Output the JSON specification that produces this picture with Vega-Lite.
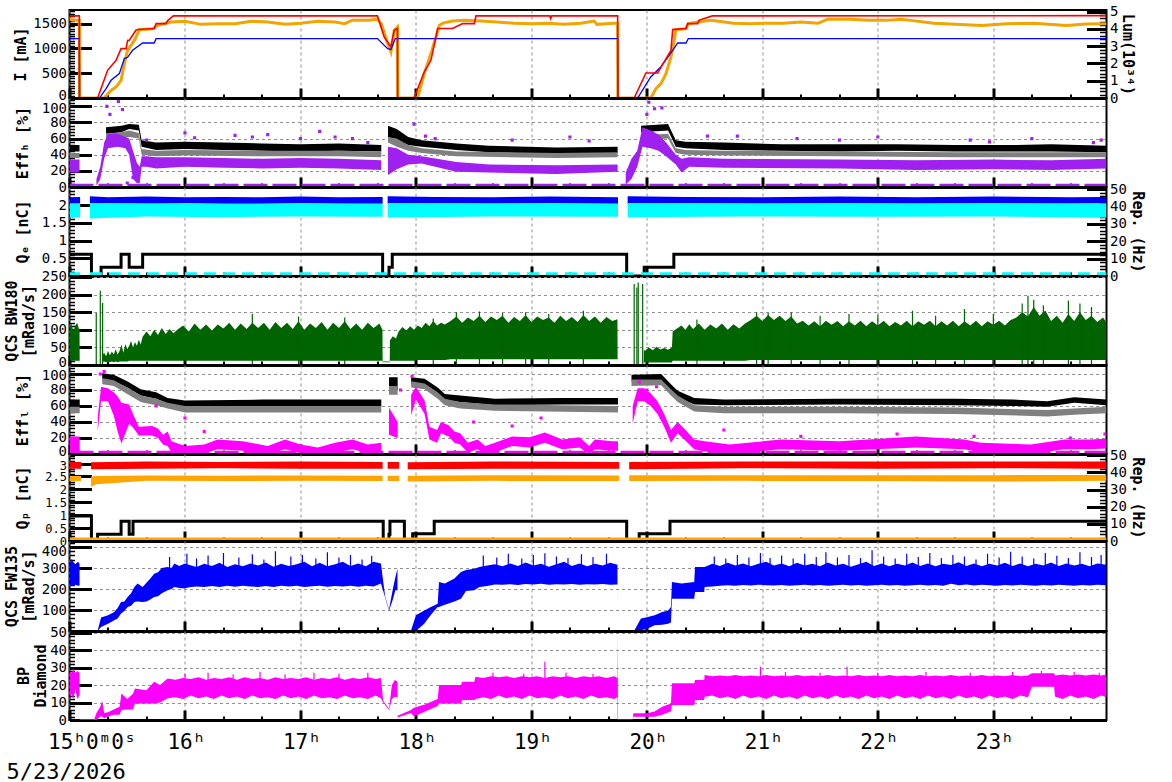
{
"$schema":"https://vega.github.io/schema/vega-lite/v6.json",
"padding":{"left":2.5,"top":3,"right":5,"bottom":2},
"bounds":"flush",
"spacing":0,
"background":"#ffffff",
"config":{
 "font":"DejaVu Sans Mono",
 "view":{"stroke":"#000","strokeWidth":2},
 "mark":{"invalid":"break-paths-filter-domains"},
 "axis":{"grid":true,"gridColor":"#909090","gridDash":[3,3],"gridWidth":1,"domain":false,"domainColor":"#000","tickColor":"#000","labelColor":"#000","labelFont":"DejaVu Sans Mono","labelFontSize":14,"titleFont":"DejaVu Sans Mono","titleFontSize":15,"titleColor":"#000","titleFontWeight":"bold","labelOverlap":false,"labelBound":false,"labelFlush":false}
},
"datasets":{
"Ir":[{"t":0,"lo":1655},{"t":5.1,"lo":1655},{"t":5.2,"lo":0},{"t":14.6,"lo":0},{"t":19.8,"lo":558},{"t":24.2,"lo":760},{"t":26.8,"lo":996},{"t":29.4,"lo":996},{"t":30.2,"lo":1163},{"t":31,"lo":1160},{"t":34.5,"lo":1365},{"t":35.6,"lo":1380},{"t":44,"lo":1400},{"t":45,"lo":1500},{"t":50.1,"lo":1500},{"t":51,"lo":1560},{"t":54,"lo":1655},{"t":160,"lo":1655},{"t":163.5,"lo":1230},{"t":167,"lo":1028},{"t":168.7,"lo":1365},{"t":170.4,"lo":1400},{"t":170.5,"lo":0},{"t":179,"lo":0},{"t":184.3,"lo":524},{"t":187.8,"lo":760},{"t":191.3,"lo":1400},{"t":199,"lo":1400},{"t":204.3,"lo":1500},{"t":210.3,"lo":1500},{"t":211.2,"lo":1655},{"t":249.5,"lo":1655},{"t":250,"lo":1600},{"t":250.5,"lo":1655},{"t":284.8,"lo":1655},{"t":284.9,"lo":0},{"t":293.4,"lo":0},{"t":299.5,"lo":504},{"t":305.6,"lo":504},{"t":312.5,"lo":962},{"t":313.4,"lo":1379},{"t":320.3,"lo":1400},{"t":321.2,"lo":1500},{"t":326.4,"lo":1500},{"t":327,"lo":1567},{"t":334,"lo":1655},{"t":538.8,"lo":1660}],
"Ib":[{"t":0,"lo":1197},{"t":5.1,"lo":1197},{"t":5.2,"lo":0},{"t":15.6,"lo":0},{"t":19,"lo":189},{"t":21.6,"lo":357},{"t":25.9,"lo":492},{"t":28.5,"lo":794},{"t":30.2,"lo":820},{"t":32.8,"lo":961},{"t":38,"lo":1109},{"t":44,"lo":1109},{"t":45,"lo":1197},{"t":160,"lo":1197},{"t":165.3,"lo":996},{"t":167,"lo":980},{"t":169.3,"lo":1197},{"t":284.8,"lo":1197},{"t":284.9,"lo":0},{"t":295.2,"lo":0},{"t":302,"lo":423},{"t":307.2,"lo":625},{"t":313.4,"lo":961},{"t":316,"lo":1109},{"t":320.3,"lo":1109},{"t":321.5,"lo":1197},{"t":538.8,"lo":1197}],
"Lo":[{"t":0,"v":4.55},{"t":2,"v":4.5},{"t":5.1,"v":4.5},{"t":5.2,"v":0},{"t":18,"v":0},{"t":21.6,"v":0.44},{"t":24.2,"v":0.64},{"t":26.8,"v":1.02},{"t":28.5,"v":1.99},{"t":30.2,"v":2.76},{"t":33.7,"v":3.33},{"t":35.4,"v":3.72},{"t":36.3,"v":3.95},{"t":43.2,"v":4.01},{"t":45.8,"v":4.2},{"t":52.7,"v":4.39},{"t":60,"v":4.44},{"t":68.3,"v":4.26},{"t":77,"v":4.3},{"t":86,"v":4.3},{"t":94.5,"v":4.44},{"t":103,"v":4.39},{"t":112,"v":4.26},{"t":120,"v":4.33},{"t":129,"v":4.44},{"t":138,"v":4.39},{"t":143,"v":4.3},{"t":147,"v":4.5},{"t":155.7,"v":4.5},{"t":160,"v":4.56},{"t":162,"v":4.3},{"t":165.3,"v":3.15},{"t":167,"v":2.66},{"t":168.7,"v":3.91},{"t":170.4,"v":4.11},{"t":170.5,"v":0},{"t":180.9,"v":0},{"t":184.3,"v":1.41},{"t":187.8,"v":2.57},{"t":190.4,"v":3.53},{"t":192.1,"v":4.2},{"t":193.9,"v":4.33},{"t":199,"v":4.45},{"t":205,"v":4.49},{"t":214,"v":4.45},{"t":222,"v":4.39},{"t":231,"v":4.33},{"t":240,"v":4.3},{"t":248.6,"v":4.33},{"t":257,"v":4.26},{"t":265.7,"v":4.33},{"t":272.6,"v":4.45},{"t":274,"v":4.26},{"t":283,"v":4.33},{"t":284.8,"v":4.33},{"t":284.9,"v":0},{"t":302,"v":0},{"t":304.7,"v":0.54},{"t":307.3,"v":0.83},{"t":309.9,"v":1.41},{"t":312.5,"v":2.37},{"t":314.2,"v":3.33},{"t":315,"v":3.95},{"t":320.3,"v":4.01},{"t":321.5,"v":4.3},{"t":326.4,"v":4.39},{"t":333.3,"v":4.49},{"t":345,"v":4.33},{"t":353.8,"v":4.3},{"t":362,"v":4.33},{"t":371,"v":4.33},{"t":380,"v":4.39},{"t":389,"v":4.33},{"t":394,"v":4.56},{"t":406,"v":4.56},{"t":415,"v":4.5},{"t":424,"v":4.49},{"t":432,"v":4.56},{"t":437,"v":4.49},{"t":449,"v":4.33},{"t":474,"v":4.2},{"t":487,"v":4.3},{"t":501,"v":4.33},{"t":518,"v":4.19},{"t":528,"v":4.28},{"t":538.8,"v":4.3}],
"Hk":[{"t":0,"lo":44,"hi":52},{"t":5.2,"lo":44,"hi":52},{"t":5.3,"lo":null,"hi":null},{"t":19,"lo":66,"hi":74},{"t":27,"lo":68,"hi":76},{"t":31,"lo":72,"hi":78},{"t":36,"lo":70,"hi":77},{"t":37.5,"lo":50,"hi":58},{"t":45,"lo":46,"hi":55},{"t":60,"lo":47,"hi":56},{"t":80,"lo":46,"hi":55},{"t":100,"lo":45,"hi":54},{"t":120,"lo":44,"hi":53},{"t":140,"lo":45,"hi":54},{"t":162,"lo":44,"hi":52},{"t":162.7,"lo":null,"hi":null},{"t":165.5,"lo":62,"hi":76},{"t":170,"lo":58,"hi":72},{"t":176,"lo":52,"hi":62},{"t":183,"lo":50,"hi":58},{"t":201,"lo":46,"hi":54},{"t":218,"lo":43,"hi":51},{"t":253,"lo":41,"hi":49},{"t":284.8,"lo":42,"hi":50},{"t":285,"lo":null,"hi":null},{"t":297,"lo":68,"hi":76},{"t":311,"lo":70,"hi":78},{"t":315,"lo":50,"hi":58},{"t":320,"lo":48,"hi":56},{"t":340,"lo":46,"hi":55},{"t":370,"lo":45,"hi":53},{"t":400,"lo":44,"hi":53},{"t":430,"lo":45,"hi":53},{"t":460,"lo":44,"hi":52},{"t":490,"lo":44,"hi":52},{"t":510,"lo":44,"hi":53},{"t":538.8,"lo":43,"hi":51}],
"Hg":[{"t":0,"lo":36,"hi":42},{"t":5.2,"lo":36,"hi":42},{"t":5.3,"lo":null,"hi":null},{"t":19,"lo":58,"hi":66},{"t":27,"lo":60,"hi":68},{"t":31,"lo":62,"hi":70},{"t":36,"lo":60,"hi":67},{"t":37.5,"lo":40,"hi":47},{"t":45,"lo":38,"hi":45},{"t":60,"lo":39,"hi":46},{"t":100,"lo":38,"hi":45},{"t":140,"lo":38,"hi":45},{"t":162,"lo":37,"hi":44},{"t":162.7,"lo":null,"hi":null},{"t":165.5,"lo":55,"hi":62},{"t":170,"lo":50,"hi":60},{"t":176,"lo":45,"hi":52},{"t":183,"lo":42,"hi":48},{"t":201,"lo":38,"hi":44},{"t":253,"lo":36,"hi":42},{"t":284.8,"lo":37,"hi":43},{"t":285,"lo":null,"hi":null},{"t":297,"lo":58,"hi":64},{"t":311,"lo":60,"hi":66},{"t":315,"lo":42,"hi":48},{"t":320,"lo":40,"hi":46},{"t":340,"lo":39,"hi":45},{"t":400,"lo":38,"hi":44},{"t":460,"lo":37,"hi":43},{"t":538.8,"lo":37,"hi":43}],
"Hp":[{"t":0,"lo":18,"hi":34},{"t":5.2,"lo":18,"hi":34},{"t":5.3,"lo":null,"hi":null},{"t":14,"lo":2,"hi":10},{"t":16,"lo":10,"hi":25},{"t":18,"lo":35,"hi":55},{"t":20,"lo":48,"hi":66},{"t":25,"lo":50,"hi":66},{"t":29,"lo":48,"hi":62},{"t":31,"lo":40,"hi":60},{"t":33,"lo":10,"hi":45},{"t":35,"lo":5,"hi":30},{"t":36.5,"lo":5,"hi":25},{"t":37.5,"lo":25,"hi":38},{"t":40,"lo":25,"hi":38},{"t":45,"lo":23,"hi":37},{"t":60,"lo":25,"hi":37},{"t":80,"lo":24,"hi":36},{"t":100,"lo":23,"hi":35},{"t":120,"lo":24,"hi":36},{"t":140,"lo":23,"hi":35},{"t":162,"lo":21,"hi":33},{"t":162.7,"lo":null,"hi":null},{"t":165.5,"lo":15,"hi":50},{"t":170,"lo":22,"hi":48},{"t":176,"lo":28,"hi":40},{"t":183,"lo":29,"hi":38},{"t":201,"lo":19,"hi":31},{"t":218,"lo":18,"hi":28},{"t":253,"lo":16,"hi":27},{"t":284.8,"lo":19,"hi":28},{"t":285,"lo":null,"hi":null},{"t":289,"lo":3,"hi":18},{"t":292,"lo":10,"hi":35},{"t":295,"lo":25,"hi":45},{"t":297.7,"lo":50,"hi":74},{"t":302,"lo":48,"hi":70},{"t":306,"lo":45,"hi":65},{"t":310,"lo":38,"hi":55},{"t":315,"lo":28,"hi":40},{"t":318,"lo":18,"hi":35},{"t":322,"lo":25,"hi":37},{"t":340,"lo":24,"hi":35},{"t":400,"lo":23,"hi":34},{"t":440,"lo":21,"hi":33},{"t":480,"lo":22,"hi":34},{"t":510,"lo":21,"hi":33},{"t":538.8,"lo":23,"hi":35}],
"Hz":[{"t":0,"lo":2.2},{"t":538.8,"lo":2.2}],
"Hx":[{"t":19.4,"lo":100},{"t":25.4,"lo":106},{"t":27.5,"lo":96},{"t":21,"lo":90},{"t":30,"lo":5},{"t":33,"lo":12},{"t":40,"lo":58},{"t":60,"lo":67},{"t":65,"lo":61},{"t":86,"lo":64},{"t":95,"lo":62},{"t":103,"lo":65},{"t":120,"lo":60},{"t":130,"lo":69},{"t":138,"lo":62},{"t":147,"lo":60},{"t":155,"lo":55},{"t":179,"lo":78},{"t":185,"lo":63},{"t":190,"lo":60},{"t":230,"lo":58},{"t":260,"lo":62},{"t":270,"lo":57},{"t":301,"lo":105},{"t":304,"lo":97},{"t":307.8,"lo":98},{"t":300,"lo":90},{"t":331.5,"lo":63},{"t":347,"lo":63},{"t":378,"lo":60},{"t":400,"lo":58},{"t":420,"lo":62},{"t":468,"lo":58},{"t":478,"lo":56},{"t":500,"lo":60},{"t":536,"lo":58},{"t":532,"lo":55}],
"Qb":[{"t":0,"lo":2.04,"hi":2.22},{"t":5.5,"lo":2.04,"hi":2.23},{"t":5.6,"lo":null,"hi":null},{"t":10.6,"lo":2.02,"hi":2.25},{"t":20,"lo":2.05,"hi":2.22},{"t":40,"lo":2.03,"hi":2.24},{"t":60,"lo":2.05,"hi":2.22},{"t":80,"lo":2.04,"hi":2.23},{"t":100,"lo":2.03,"hi":2.22},{"t":120,"lo":2.05,"hi":2.24},{"t":140,"lo":2.04,"hi":2.22},{"t":162.7,"lo":2.04,"hi":2.23},{"t":162.8,"lo":null,"hi":null},{"t":165.3,"lo":2.03,"hi":2.25},{"t":190,"lo":2.05,"hi":2.23},{"t":220,"lo":2.04,"hi":2.22},{"t":250,"lo":2.05,"hi":2.24},{"t":285,"lo":2.04,"hi":2.22},{"t":285.1,"lo":null,"hi":null},{"t":290,"lo":2.03,"hi":2.25},{"t":320,"lo":2.05,"hi":2.23},{"t":360,"lo":2.04,"hi":2.22},{"t":400,"lo":2.05,"hi":2.24},{"t":440,"lo":2.04,"hi":2.22},{"t":480,"lo":2.05,"hi":2.24},{"t":520,"lo":2.04,"hi":2.22},{"t":538.8,"lo":2.05,"hi":2.23}],
"Qc":[{"t":0,"lo":1.64,"hi":2.05},{"t":5.5,"lo":1.66,"hi":2.05},{"t":5.6,"lo":null,"hi":null},{"t":10.6,"lo":1.62,"hi":2.06},{"t":40,"lo":1.68,"hi":2.05},{"t":80,"lo":1.66,"hi":2.04},{"t":120,"lo":1.68,"hi":2.05},{"t":162.7,"lo":1.67,"hi":2.04},{"t":162.8,"lo":null,"hi":null},{"t":165.3,"lo":1.65,"hi":2.06},{"t":220,"lo":1.68,"hi":2.05},{"t":285,"lo":1.67,"hi":2.04},{"t":285.1,"lo":null,"hi":null},{"t":290,"lo":1.66,"hi":2.06},{"t":350,"lo":1.68,"hi":2.05},{"t":420,"lo":1.67,"hi":2.05},{"t":480,"lo":1.68,"hi":2.05},{"t":538.8,"lo":1.64,"hi":2.05}],
"Qk":[{"t":0,"v":12.5},{"t":11.4,"v":0},{"t":16.4,"v":5},{"t":26.8,"v":12.5},{"t":31,"v":5},{"t":38,"v":12.5},{"t":162.7,"v":0},{"t":166,"v":5},{"t":167.7,"v":12.5},{"t":289.5,"v":0},{"t":298.6,"v":5},{"t":314,"v":12.5},{"t":538.8,"v":12.5}],
"Qz":[{"t":0,"lo":0.06},{"t":5.5,"lo":0.06},{"t":5.6,"lo":null},{"t":10.6,"lo":0.06},{"t":538.8,"lo":0.06}],
"G":[{"t":0,"lo":12,"hi":105},{"t":1,"lo":12,"hi":118},{"t":2,"lo":12,"hi":95},{"t":3,"lo":12,"hi":112},{"t":4,"lo":12,"hi":120},{"t":5,"lo":12,"hi":100},{"t":5.2,"lo":12,"hi":108},{"t":5.3,"lo":0,"hi":1.5},{"t":17.2,"lo":0,"hi":1.5},{"t":17.4,"lo":10,"hi":30},{"t":18,"lo":10,"hi":35},{"t":19,"lo":8,"hi":25},{"t":20,"lo":10,"hi":40},{"t":21,"lo":8,"hi":28},{"t":22,"lo":10,"hi":38},{"t":23,"lo":8,"hi":30},{"t":24,"lo":10,"hi":45},{"t":25,"lo":8,"hi":30},{"t":26,"lo":10,"hi":40},{"t":27,"lo":10,"hi":58},{"t":28,"lo":10,"hi":35},{"t":29,"lo":10,"hi":60},{"t":30,"lo":10,"hi":45},{"t":31,"lo":12,"hi":55},{"t":32,"lo":12,"hi":68},{"t":33,"lo":12,"hi":50},{"t":34,"lo":12,"hi":65},{"t":35,"lo":12,"hi":55},{"t":36,"lo":12,"hi":72},{"t":37,"lo":12,"hi":58},{"t":38,"lo":12,"hi":80},{"t":40,"lo":12,"hi":95},{"t":42,"lo":12,"hi":82},{"t":44,"lo":12,"hi":100},{"t":46,"lo":12,"hi":85},{"t":48,"lo":12,"hi":105},{"t":50,"lo":12,"hi":88},{"t":52,"lo":12,"hi":102},{"t":54,"lo":12,"hi":90},{"t":56,"lo":12,"hi":100},{"t":59,"lo":12,"hi":112},{"t":62,"lo":12,"hi":95},{"t":65,"lo":12,"hi":118},{"t":68,"lo":12,"hi":100},{"t":71,"lo":12,"hi":115},{"t":74,"lo":12,"hi":98},{"t":77,"lo":12,"hi":115},{"t":80,"lo":12,"hi":104},{"t":83,"lo":12,"hi":120},{"t":86,"lo":12,"hi":100},{"t":89,"lo":12,"hi":118},{"t":92,"lo":12,"hi":102},{"t":95,"lo":12,"hi":120},{"t":98,"lo":12,"hi":105},{"t":101,"lo":12,"hi":120},{"t":104,"lo":12,"hi":100},{"t":107,"lo":12,"hi":122},{"t":110,"lo":12,"hi":105},{"t":113,"lo":12,"hi":120},{"t":116,"lo":12,"hi":102},{"t":119,"lo":12,"hi":124},{"t":122,"lo":12,"hi":100},{"t":125,"lo":12,"hi":118},{"t":128,"lo":12,"hi":105},{"t":131,"lo":12,"hi":122},{"t":134,"lo":12,"hi":100},{"t":137,"lo":12,"hi":120},{"t":140,"lo":12,"hi":105},{"t":143,"lo":12,"hi":124},{"t":146,"lo":12,"hi":102},{"t":149,"lo":12,"hi":118},{"t":152,"lo":12,"hi":100},{"t":155,"lo":12,"hi":120},{"t":158,"lo":12,"hi":105},{"t":161,"lo":12,"hi":118},{"t":162.6,"lo":12,"hi":100},{"t":162.7,"lo":8,"hi":10},{"t":166.4,"lo":8,"hi":10},{"t":166.5,"lo":12,"hi":70},{"t":168,"lo":12,"hi":82},{"t":169.6,"lo":12,"hi":75},{"t":171,"lo":12,"hi":95},{"t":173,"lo":12,"hi":108},{"t":175,"lo":12,"hi":98},{"t":177,"lo":12,"hi":110},{"t":179,"lo":12,"hi":100},{"t":181,"lo":14,"hi":112},{"t":183,"lo":14,"hi":105},{"t":185,"lo":14,"hi":120},{"t":187,"lo":14,"hi":110},{"t":189,"lo":14,"hi":125},{"t":191,"lo":14,"hi":112},{"t":193,"lo":14,"hi":120},{"t":195,"lo":14,"hi":115},{"t":198,"lo":16,"hi":125},{"t":201,"lo":16,"hi":138},{"t":204,"lo":16,"hi":120},{"t":207,"lo":16,"hi":135},{"t":210,"lo":16,"hi":125},{"t":213,"lo":16,"hi":140},{"t":216,"lo":16,"hi":122},{"t":219,"lo":16,"hi":138},{"t":222,"lo":16,"hi":128},{"t":225,"lo":16,"hi":140},{"t":228,"lo":16,"hi":120},{"t":231,"lo":16,"hi":136},{"t":234,"lo":16,"hi":125},{"t":237,"lo":16,"hi":142},{"t":240,"lo":16,"hi":122},{"t":243,"lo":16,"hi":138},{"t":246,"lo":16,"hi":128},{"t":249,"lo":16,"hi":135},{"t":252,"lo":16,"hi":120},{"t":255,"lo":16,"hi":140},{"t":258,"lo":16,"hi":125},{"t":261,"lo":16,"hi":136},{"t":264,"lo":16,"hi":122},{"t":267,"lo":16,"hi":142},{"t":270,"lo":16,"hi":125},{"t":273,"lo":16,"hi":138},{"t":276,"lo":16,"hi":120},{"t":279,"lo":16,"hi":136},{"t":282,"lo":16,"hi":125},{"t":284.7,"lo":16,"hi":130},{"t":284.8,"lo":0,"hi":1.5},{"t":298.3,"lo":0,"hi":1.5},{"t":298.4,"lo":7,"hi":45},{"t":299,"lo":7,"hi":40},{"t":301,"lo":7,"hi":50},{"t":303,"lo":7,"hi":42},{"t":305,"lo":7,"hi":52},{"t":307,"lo":7,"hi":44},{"t":309,"lo":7,"hi":48},{"t":311,"lo":7,"hi":43},{"t":313,"lo":7,"hi":50},{"t":313.4,"lo":12,"hi":95},{"t":316,"lo":12,"hi":105},{"t":318,"lo":12,"hi":112},{"t":320,"lo":12,"hi":100},{"t":322,"lo":12,"hi":116},{"t":324,"lo":12,"hi":102},{"t":327,"lo":12,"hi":118},{"t":330,"lo":12,"hi":100},{"t":333,"lo":12,"hi":115},{"t":336,"lo":12,"hi":104},{"t":339,"lo":12,"hi":118},{"t":342,"lo":12,"hi":100},{"t":345,"lo":12,"hi":116},{"t":348,"lo":12,"hi":104},{"t":351,"lo":12,"hi":118},{"t":354,"lo":14,"hi":128},{"t":357,"lo":14,"hi":140},{"t":360,"lo":14,"hi":125},{"t":363,"lo":14,"hi":142},{"t":366,"lo":14,"hi":128},{"t":369,"lo":14,"hi":140},{"t":372,"lo":14,"hi":125},{"t":375,"lo":14,"hi":138},{"t":378,"lo":14,"hi":118},{"t":381,"lo":14,"hi":126},{"t":384,"lo":14,"hi":112},{"t":387,"lo":14,"hi":124},{"t":390,"lo":14,"hi":110},{"t":393,"lo":14,"hi":126},{"t":396,"lo":14,"hi":114},{"t":399,"lo":14,"hi":125},{"t":402,"lo":14,"hi":110},{"t":405,"lo":14,"hi":124},{"t":408,"lo":14,"hi":112},{"t":411,"lo":14,"hi":126},{"t":414,"lo":14,"hi":110},{"t":417,"lo":14,"hi":124},{"t":420,"lo":14,"hi":112},{"t":423,"lo":14,"hi":126},{"t":426,"lo":14,"hi":110},{"t":429,"lo":14,"hi":122},{"t":432,"lo":14,"hi":112},{"t":435,"lo":14,"hi":126},{"t":438,"lo":14,"hi":110},{"t":441,"lo":14,"hi":124},{"t":444,"lo":14,"hi":114},{"t":447,"lo":14,"hi":126},{"t":450,"lo":14,"hi":110},{"t":453,"lo":14,"hi":124},{"t":456,"lo":14,"hi":112},{"t":459,"lo":14,"hi":126},{"t":462,"lo":14,"hi":110},{"t":465,"lo":14,"hi":124},{"t":468,"lo":14,"hi":112},{"t":471,"lo":14,"hi":126},{"t":474,"lo":14,"hi":110},{"t":477,"lo":14,"hi":124},{"t":480,"lo":14,"hi":114},{"t":483,"lo":14,"hi":126},{"t":486,"lo":14,"hi":112},{"t":489,"lo":14,"hi":128},{"t":492,"lo":14,"hi":135},{"t":495,"lo":14,"hi":150},{"t":498,"lo":14,"hi":138},{"t":501,"lo":14,"hi":165},{"t":504,"lo":14,"hi":140},{"t":507,"lo":14,"hi":155},{"t":510,"lo":14,"hi":125},{"t":513,"lo":14,"hi":140},{"t":516,"lo":14,"hi":120},{"t":519,"lo":14,"hi":145},{"t":522,"lo":14,"hi":125},{"t":525,"lo":14,"hi":150},{"t":528,"lo":14,"hi":128},{"t":531,"lo":14,"hi":140},{"t":534,"lo":14,"hi":122},{"t":537,"lo":14,"hi":135},{"t":538.8,"lo":14,"hi":120}],
"Gs":[{"t":13.9,"lo":148},{"t":16,"lo":211},{"t":17.2,"lo":176},{"t":95,"lo":145},{"t":119,"lo":138},{"t":143,"lo":135},{"t":189,"lo":132},{"t":201,"lo":150},{"t":213,"lo":152},{"t":225,"lo":148},{"t":237,"lo":150},{"t":249,"lo":145},{"t":267,"lo":154},{"t":293.4,"lo":230},{"t":294.8,"lo":220},{"t":295.5,"lo":234},{"t":297.8,"lo":230},{"t":326,"lo":129},{"t":357,"lo":150},{"t":363,"lo":148},{"t":375,"lo":150},{"t":390,"lo":140},{"t":405,"lo":145},{"t":420,"lo":142},{"t":438,"lo":154},{"t":450,"lo":140},{"t":465,"lo":159},{"t":480,"lo":145},{"t":495,"lo":175},{"t":498,"lo":197},{"t":501,"lo":185},{"t":506,"lo":170},{"t":519,"lo":183},{"t":525,"lo":175},{"t":531,"lo":165}],
"Lk":[{"t":0,"lo":60,"hi":68},{"t":5.3,"lo":60,"hi":68},{"t":5.4,"lo":null,"hi":null},{"t":17,"lo":93,"hi":101},{"t":23,"lo":91,"hi":99},{"t":30,"lo":83,"hi":91},{"t":37,"lo":73,"hi":81},{"t":45,"lo":69,"hi":77},{"t":51,"lo":63,"hi":70},{"t":60,"lo":59,"hi":67},{"t":100,"lo":60,"hi":68},{"t":140,"lo":60,"hi":68},{"t":162,"lo":60,"hi":68},{"t":162.7,"lo":null,"hi":null},{"t":166,"lo":80,"hi":96},{"t":170.5,"lo":80,"hi":96},{"t":170.6,"lo":null,"hi":null},{"t":177.5,"lo":87,"hi":96},{"t":184.5,"lo":86,"hi":94},{"t":191.3,"lo":75,"hi":83},{"t":195,"lo":67,"hi":75},{"t":203,"lo":65,"hi":73},{"t":221,"lo":61,"hi":69},{"t":256,"lo":62,"hi":70},{"t":285,"lo":62,"hi":70},{"t":285.1,"lo":null,"hi":null},{"t":292,"lo":91,"hi":99},{"t":307.4,"lo":92,"hi":100},{"t":312.5,"lo":79,"hi":87},{"t":316,"lo":71,"hi":79},{"t":324.6,"lo":62,"hi":70},{"t":340,"lo":61,"hi":68},{"t":400,"lo":62,"hi":69},{"t":460,"lo":61,"hi":69},{"t":490,"lo":60,"hi":68},{"t":508,"lo":59,"hi":66},{"t":522,"lo":64,"hi":71},{"t":538.8,"lo":61,"hi":68}],
"Lg":[{"t":0,"lo":51,"hi":59},{"t":5.3,"lo":51,"hi":59},{"t":5.4,"lo":null,"hi":null},{"t":17,"lo":87,"hi":95},{"t":23,"lo":85,"hi":92},{"t":30,"lo":75,"hi":83},{"t":37,"lo":65,"hi":73},{"t":45,"lo":61,"hi":69},{"t":51,"lo":57,"hi":64},{"t":60,"lo":52,"hi":60},{"t":100,"lo":52,"hi":60},{"t":162,"lo":52,"hi":60},{"t":162.7,"lo":null,"hi":null},{"t":166,"lo":74,"hi":85},{"t":170.5,"lo":74,"hi":85},{"t":170.6,"lo":null,"hi":null},{"t":177.5,"lo":83,"hi":91},{"t":184.5,"lo":81,"hi":88},{"t":191.3,"lo":69,"hi":77},{"t":195,"lo":61,"hi":69},{"t":203,"lo":57,"hi":65},{"t":221,"lo":54,"hi":62},{"t":285,"lo":52,"hi":60},{"t":285.1,"lo":null,"hi":null},{"t":292,"lo":85,"hi":93},{"t":307.4,"lo":86,"hi":93},{"t":312.5,"lo":73,"hi":81},{"t":316,"lo":65,"hi":73},{"t":324.6,"lo":53,"hi":61},{"t":340,"lo":51,"hi":59},{"t":400,"lo":51,"hi":59},{"t":460,"lo":50,"hi":58},{"t":508,"lo":47,"hi":55},{"t":522,"lo":49,"hi":57},{"t":538.8,"lo":51,"hi":59}],
"Lm":[{"t":0,"lo":3,"hi":22},{"t":5.3,"lo":3,"hi":22},{"t":5.4,"lo":null,"hi":null},{"t":14.7,"lo":28,"hi":47},{"t":16.4,"lo":66,"hi":84},{"t":20,"lo":66,"hi":82},{"t":23,"lo":48,"hi":77},{"t":25,"lo":28,"hi":72},{"t":27,"lo":13,"hi":64},{"t":31,"lo":38,"hi":62},{"t":33,"lo":33,"hi":50},{"t":36,"lo":23,"hi":34},{"t":43,"lo":23,"hi":35},{"t":46,"lo":20,"hi":32},{"t":48.6,"lo":12,"hi":24},{"t":51,"lo":10,"hi":28},{"t":53,"lo":2,"hi":16},{"t":60,"lo":0,"hi":10},{"t":70,"lo":1,"hi":12},{"t":77,"lo":6,"hi":18},{"t":90,"lo":4,"hi":16},{"t":103,"lo":0,"hi":10},{"t":112,"lo":6,"hi":18},{"t":120,"lo":1,"hi":12},{"t":129,"lo":0,"hi":8},{"t":138,"lo":2,"hi":14},{"t":147,"lo":6,"hi":18},{"t":155,"lo":1,"hi":12},{"t":162,"lo":2,"hi":14},{"t":162.7,"lo":null,"hi":null},{"t":166,"lo":24,"hi":58},{"t":170.5,"lo":20,"hi":40},{"t":170.6,"lo":null,"hi":null},{"t":177.5,"lo":48,"hi":74},{"t":180,"lo":68,"hi":84},{"t":184.5,"lo":50,"hi":67},{"t":187,"lo":18,"hi":34},{"t":191,"lo":14,"hi":30},{"t":193,"lo":26,"hi":40},{"t":197,"lo":22,"hi":36},{"t":200,"lo":14,"hi":28},{"t":203,"lo":12,"hi":26},{"t":207,"lo":2,"hi":14},{"t":212,"lo":6,"hi":18},{"t":216,"lo":0,"hi":10},{"t":221,"lo":2,"hi":14},{"t":230,"lo":10,"hi":22},{"t":239,"lo":8,"hi":21},{"t":247,"lo":14,"hi":27},{"t":256,"lo":6,"hi":18},{"t":265,"lo":8,"hi":21},{"t":270,"lo":0,"hi":10},{"t":273,"lo":6,"hi":18},{"t":282,"lo":4,"hi":16},{"t":285,"lo":4,"hi":16},{"t":285.1,"lo":null,"hi":null},{"t":292.6,"lo":38,"hi":60},{"t":295.2,"lo":66,"hi":82},{"t":298.6,"lo":66,"hi":82},{"t":302,"lo":60,"hi":76},{"t":305.5,"lo":50,"hi":66},{"t":309,"lo":34,"hi":50},{"t":312.5,"lo":14,"hi":30},{"t":316,"lo":26,"hi":40},{"t":319.4,"lo":18,"hi":32},{"t":324.6,"lo":6,"hi":18},{"t":330,"lo":3,"hi":16},{"t":343,"lo":0,"hi":12},{"t":369.6,"lo":6,"hi":18},{"t":400,"lo":4,"hi":16},{"t":440,"lo":8,"hi":22},{"t":465,"lo":6,"hi":18},{"t":473.5,"lo":2,"hi":14},{"t":499.5,"lo":0,"hi":12},{"t":517,"lo":6,"hi":18},{"t":530,"lo":6,"hi":18},{"t":538.8,"lo":7,"hi":19}],
"Lz":[{"t":0,"lo":2.2},{"t":538.8,"lo":2.2}],
"Lx":[{"t":16,"lo":100},{"t":18,"lo":103},{"t":45,"lo":60},{"t":60,"lo":45},{"t":70,"lo":28},{"t":172,"lo":80},{"t":178,"lo":97},{"t":210,"lo":40},{"t":230,"lo":35},{"t":245,"lo":45},{"t":296,"lo":90},{"t":300,"lo":80},{"t":305,"lo":84},{"t":340,"lo":30},{"t":380,"lo":22},{"t":430,"lo":25},{"t":470,"lo":22},{"t":520,"lo":20},{"t":538,"lo":25}],
"Pr":[{"t":0,"lo":2.8,"hi":3.06},{"t":6,"lo":2.8,"hi":3.06},{"t":6.1,"lo":null,"hi":null},{"t":11.2,"lo":2.78,"hi":3.05},{"t":40,"lo":2.8,"hi":3.08},{"t":80,"lo":2.82,"hi":3.06},{"t":120,"lo":2.8,"hi":3.08},{"t":162.7,"lo":2.8,"hi":3.06},{"t":162.8,"lo":null,"hi":null},{"t":165.3,"lo":2.8,"hi":3.06},{"t":171.3,"lo":2.8,"hi":3.06},{"t":171.4,"lo":null,"hi":null},{"t":175.7,"lo":2.78,"hi":3.05},{"t":220,"lo":2.8,"hi":3.08},{"t":285.6,"lo":2.8,"hi":3.06},{"t":285.7,"lo":null,"hi":null},{"t":290.8,"lo":2.78,"hi":3.06},{"t":350,"lo":2.82,"hi":3.08},{"t":420,"lo":2.8,"hi":3.08},{"t":480,"lo":2.82,"hi":3.08},{"t":538.8,"lo":2.8,"hi":3.08}],
"Po":[{"t":0,"lo":2.32,"hi":2.52},{"t":6,"lo":2.32,"hi":2.52},{"t":6.1,"lo":null,"hi":null},{"t":11.2,"lo":2.1,"hi":2.5},{"t":14,"lo":2.2,"hi":2.52},{"t":40,"lo":2.33,"hi":2.54},{"t":80,"lo":2.32,"hi":2.53},{"t":120,"lo":2.33,"hi":2.54},{"t":162.7,"lo":2.32,"hi":2.53},{"t":162.8,"lo":null,"hi":null},{"t":165.3,"lo":2.32,"hi":2.53},{"t":171.3,"lo":2.32,"hi":2.53},{"t":171.4,"lo":null,"hi":null},{"t":175.7,"lo":2.3,"hi":2.53},{"t":220,"lo":2.33,"hi":2.55},{"t":285.6,"lo":2.32,"hi":2.54},{"t":285.7,"lo":null,"hi":null},{"t":290.8,"lo":2.32,"hi":2.55},{"t":350,"lo":2.33,"hi":2.55},{"t":420,"lo":2.32,"hi":2.55},{"t":480,"lo":2.3,"hi":2.55},{"t":538.8,"lo":2.33,"hi":2.56}],
"Pk":[{"t":0,"v":14.6},{"t":11.4,"v":0},{"t":14.6,"v":3.9},{"t":26.8,"v":11.5},{"t":31,"v":3.9},{"t":33,"v":11.5},{"t":163,"v":0},{"t":166,"v":3.9},{"t":166.5,"v":11.5},{"t":174,"v":0},{"t":178.3,"v":4.2},{"t":189.5,"v":11.5},{"t":289.5,"v":0},{"t":296,"v":4.2},{"t":312,"v":11.5},{"t":538.8,"v":11.5}],
"Pz":[{"t":0,"lo":0.08},{"t":538.8,"lo":0.08}],
"F":[{"t":0,"lo":217,"hi":325},{"t":1.5,"lo":214,"hi":335},{"t":3,"lo":220,"hi":318},{"t":4.5,"lo":216,"hi":330},{"t":5.2,"lo":217,"hi":320},{"t":5.3,"lo":0,"hi":1},{"t":14.6,"lo":0,"hi":1},{"t":16.4,"lo":19,"hi":64},{"t":20,"lo":35,"hi":75},{"t":23.3,"lo":51,"hi":90},{"t":25,"lo":60,"hi":110},{"t":26.8,"lo":83,"hi":138},{"t":28.5,"lo":95,"hi":140},{"t":30.2,"lo":114,"hi":162},{"t":32,"lo":120,"hi":180},{"t":33.7,"lo":138,"hi":209},{"t":35.4,"lo":140,"hi":226},{"t":38,"lo":138,"hi":210},{"t":40,"lo":140,"hi":230},{"t":42,"lo":150,"hi":250},{"t":44,"lo":162,"hi":273},{"t":46,"lo":165,"hi":280},{"t":48,"lo":180,"hi":300},{"t":51,"lo":194,"hi":305},{"t":53,"lo":200,"hi":300},{"t":54.5,"lo":209,"hi":321},{"t":57,"lo":205,"hi":310},{"t":60,"lo":202,"hi":321},{"t":62,"lo":208,"hi":315},{"t":66,"lo":212,"hi":305},{"t":70,"lo":209,"hi":320},{"t":74,"lo":214,"hi":310},{"t":78,"lo":210,"hi":325},{"t":82,"lo":215,"hi":305},{"t":86,"lo":211,"hi":318},{"t":90,"lo":216,"hi":308},{"t":94,"lo":212,"hi":322},{"t":98,"lo":210,"hi":312},{"t":102,"lo":214,"hi":326},{"t":106,"lo":209,"hi":306},{"t":110,"lo":215,"hi":320},{"t":114,"lo":212,"hi":310},{"t":118,"lo":216,"hi":318},{"t":122,"lo":210,"hi":330},{"t":126,"lo":213,"hi":308},{"t":130,"lo":215,"hi":325},{"t":134,"lo":211,"hi":308},{"t":138,"lo":214,"hi":318},{"t":142,"lo":212,"hi":330},{"t":146,"lo":216,"hi":310},{"t":150,"lo":211,"hi":322},{"t":154,"lo":215,"hi":308},{"t":158,"lo":212,"hi":330},{"t":161.8,"lo":226,"hi":321},{"t":164,"lo":160,"hi":166},{"t":166,"lo":96,"hi":102},{"t":168,"lo":150,"hi":200},{"t":169.3,"lo":194,"hi":256},{"t":170.4,"lo":194,"hi":297},{"t":170.5,"lo":0,"hi":1},{"t":177.4,"lo":0,"hi":1},{"t":180,"lo":0,"hi":75},{"t":184.3,"lo":35,"hi":98},{"t":188,"lo":80,"hi":115},{"t":191.3,"lo":114,"hi":130},{"t":192,"lo":114,"hi":233},{"t":195,"lo":125,"hi":226},{"t":200,"lo":140,"hi":250},{"t":203.4,"lo":154,"hi":281},{"t":206,"lo":190,"hi":290},{"t":210.3,"lo":194,"hi":297},{"t":213,"lo":209,"hi":305},{"t":217,"lo":214,"hi":312},{"t":221,"lo":222,"hi":318},{"t":225,"lo":220,"hi":308},{"t":229,"lo":223,"hi":322},{"t":233,"lo":219,"hi":310},{"t":237,"lo":224,"hi":326},{"t":241,"lo":221,"hi":312},{"t":245,"lo":225,"hi":320},{"t":249,"lo":220,"hi":306},{"t":253,"lo":223,"hi":318},{"t":257,"lo":221,"hi":330},{"t":261,"lo":224,"hi":310},{"t":265,"lo":220,"hi":322},{"t":269,"lo":223,"hi":308},{"t":273,"lo":221,"hi":320},{"t":277,"lo":224,"hi":312},{"t":281,"lo":220,"hi":325},{"t":284.7,"lo":222,"hi":315},{"t":284.8,"lo":0,"hi":1},{"t":293.4,"lo":0,"hi":1},{"t":296.9,"lo":3,"hi":59},{"t":300,"lo":10,"hi":65},{"t":304,"lo":27,"hi":75},{"t":308,"lo":30,"hi":90},{"t":311,"lo":35,"hi":98},{"t":312.5,"lo":40,"hi":114},{"t":313,"lo":154,"hi":233},{"t":318,"lo":154,"hi":226},{"t":324.6,"lo":154,"hi":233},{"t":325,"lo":186,"hi":305},{"t":329.8,"lo":186,"hi":305},{"t":330,"lo":209,"hi":305},{"t":334,"lo":212,"hi":320},{"t":338,"lo":215,"hi":310},{"t":342,"lo":218,"hi":325},{"t":346,"lo":216,"hi":312},{"t":350,"lo":219,"hi":322},{"t":354,"lo":217,"hi":308},{"t":358,"lo":220,"hi":320},{"t":362,"lo":218,"hi":330},{"t":366,"lo":217,"hi":312},{"t":370,"lo":219,"hi":322},{"t":374,"lo":216,"hi":308},{"t":378,"lo":218,"hi":325},{"t":382,"lo":220,"hi":312},{"t":386,"lo":217,"hi":320},{"t":390,"lo":219,"hi":308},{"t":394,"lo":216,"hi":326},{"t":398,"lo":218,"hi":312},{"t":402,"lo":220,"hi":320},{"t":406,"lo":217,"hi":306},{"t":410,"lo":219,"hi":318},{"t":414,"lo":216,"hi":330},{"t":418,"lo":218,"hi":310},{"t":422,"lo":220,"hi":322},{"t":426,"lo":217,"hi":308},{"t":430,"lo":219,"hi":320},{"t":434,"lo":216,"hi":312},{"t":438,"lo":218,"hi":326},{"t":442,"lo":220,"hi":310},{"t":446,"lo":217,"hi":322},{"t":450,"lo":219,"hi":308},{"t":454,"lo":216,"hi":320},{"t":458,"lo":225,"hi":314},{"t":462,"lo":218,"hi":328},{"t":466,"lo":221,"hi":310},{"t":470,"lo":217,"hi":322},{"t":474,"lo":220,"hi":308},{"t":478,"lo":218,"hi":320},{"t":482,"lo":216,"hi":312},{"t":486,"lo":219,"hi":325},{"t":490,"lo":217,"hi":310},{"t":494,"lo":220,"hi":322},{"t":498,"lo":218,"hi":308},{"t":502,"lo":216,"hi":320},{"t":506,"lo":219,"hi":312},{"t":510,"lo":217,"hi":326},{"t":514,"lo":220,"hi":310},{"t":518,"lo":218,"hi":322},{"t":522,"lo":216,"hi":312},{"t":526,"lo":219,"hi":320},{"t":530,"lo":217,"hi":308},{"t":534,"lo":220,"hi":322},{"t":538.8,"lo":218,"hi":315}],
"Fs":[{"t":1,"lo":340},{"t":52,"lo":352},{"t":61,"lo":368},{"t":66,"lo":345},{"t":72,"lo":360},{"t":80,"lo":372},{"t":88,"lo":350},{"t":95,"lo":365},{"t":101,"lo":340},{"t":107,"lo":380},{"t":115,"lo":355},{"t":121,"lo":362},{"t":128,"lo":345},{"t":134,"lo":375},{"t":140,"lo":350},{"t":146,"lo":362},{"t":152,"lo":340},{"t":157,"lo":358},{"t":215,"lo":360},{"t":222,"lo":350},{"t":228,"lo":368},{"t":235,"lo":345},{"t":241,"lo":362},{"t":247,"lo":370},{"t":253,"lo":355},{"t":259,"lo":348},{"t":266,"lo":365},{"t":272,"lo":352},{"t":279,"lo":368},{"t":335,"lo":355},{"t":341,"lo":345},{"t":347,"lo":362},{"t":353,"lo":350},{"t":359,"lo":372},{"t":364,"lo":348},{"t":370,"lo":360},{"t":376,"lo":345},{"t":382,"lo":368},{"t":388,"lo":352},{"t":393,"lo":375},{"t":399,"lo":350},{"t":405,"lo":362},{"t":411,"lo":348},{"t":417,"lo":384},{"t":423,"lo":355},{"t":429,"lo":345},{"t":435,"lo":368},{"t":441,"lo":352},{"t":447,"lo":372},{"t":453,"lo":348},{"t":459,"lo":362},{"t":465,"lo":355},{"t":471,"lo":340},{"t":477,"lo":368},{"t":483,"lo":350},{"t":489,"lo":378},{"t":495,"lo":355},{"t":501,"lo":345},{"t":507,"lo":372},{"t":513,"lo":358},{"t":519,"lo":348},{"t":525,"lo":375},{"t":531,"lo":352},{"t":536,"lo":362}],
"B":[{"t":0,"lo":12.4,"hi":28},{"t":1,"lo":15,"hi":27},{"t":2,"lo":12,"hi":28.5},{"t":3,"lo":18,"hi":27},{"t":4,"lo":12,"hi":28},{"t":5.2,"lo":14,"hi":27},{"t":5.3,"lo":0,"hi":0.5},{"t":12.9,"lo":0,"hi":0.5},{"t":14,"lo":0,"hi":4},{"t":16,"lo":2,"hi":7.6},{"t":17,"lo":2,"hi":11},{"t":18,"lo":1,"hi":4},{"t":20,"lo":2,"hi":4.5},{"t":23,"lo":3,"hi":6},{"t":26,"lo":3,"hi":7.6},{"t":27,"lo":5.7,"hi":15.2},{"t":30,"lo":6,"hi":12},{"t":33,"lo":6,"hi":15},{"t":34,"lo":9.5,"hi":18},{"t":40,"lo":9.5,"hi":17},{"t":44,"lo":9.5,"hi":21.9},{"t":47,"lo":10,"hi":20},{"t":51,"lo":12.4,"hi":23.8},{"t":55,"lo":13,"hi":23},{"t":59,"lo":12,"hi":24},{"t":63,"lo":14,"hi":23.5},{"t":67,"lo":12.5,"hi":24.5},{"t":71,"lo":13.5,"hi":23},{"t":75,"lo":12,"hi":24},{"t":79,"lo":14,"hi":23.5},{"t":83,"lo":12.5,"hi":24.5},{"t":87,"lo":13.5,"hi":23},{"t":91,"lo":12,"hi":24.5},{"t":95,"lo":14,"hi":23.5},{"t":99,"lo":12.5,"hi":24},{"t":103,"lo":13,"hi":23},{"t":107,"lo":12,"hi":24.5},{"t":111,"lo":14,"hi":23.5},{"t":115,"lo":12.5,"hi":24},{"t":119,"lo":13.5,"hi":23.5},{"t":123,"lo":12,"hi":24.5},{"t":127,"lo":14,"hi":23},{"t":131,"lo":12.5,"hi":24},{"t":135,"lo":13,"hi":23.5},{"t":139,"lo":12,"hi":24.5},{"t":143,"lo":14,"hi":23},{"t":147,"lo":12.5,"hi":24},{"t":151,"lo":13,"hi":23.5},{"t":155,"lo":12,"hi":24.5},{"t":159,"lo":14,"hi":23.5},{"t":161.8,"lo":12.4,"hi":24},{"t":163,"lo":10,"hi":11},{"t":166,"lo":5.7,"hi":6.5},{"t":167.5,"lo":12,"hi":20},{"t":169,"lo":13.3,"hi":22.9},{"t":170.4,"lo":13,"hi":22},{"t":170.5,"lo":1.5,"hi":2.5},{"t":177.4,"lo":4,"hi":5.7},{"t":179,"lo":2,"hi":7},{"t":185,"lo":5,"hi":9},{"t":191.3,"lo":8,"hi":12},{"t":192,"lo":9.5,"hi":20},{"t":203.4,"lo":9.5,"hi":20},{"t":204,"lo":11.4,"hi":21.9},{"t":210.3,"lo":11.4,"hi":21.9},{"t":211,"lo":12,"hi":24.8},{"t":215,"lo":13,"hi":24},{"t":219,"lo":12,"hi":25},{"t":223,"lo":14,"hi":24.5},{"t":227,"lo":12.5,"hi":25},{"t":231,"lo":13.5,"hi":24},{"t":235,"lo":12,"hi":25},{"t":239,"lo":14,"hi":24.5},{"t":243,"lo":12.5,"hi":25},{"t":247,"lo":13,"hi":24},{"t":251,"lo":12,"hi":25},{"t":255,"lo":14,"hi":24.5},{"t":259,"lo":12.5,"hi":25},{"t":263,"lo":13.5,"hi":24},{"t":267,"lo":12,"hi":25},{"t":271,"lo":14,"hi":24.5},{"t":275,"lo":12.5,"hi":25},{"t":279,"lo":13,"hi":24},{"t":283,"lo":12,"hi":25},{"t":284.7,"lo":13,"hi":24},{"t":284.8,"lo":0,"hi":51},{"t":285,"lo":0,"hi":0.3},{"t":292.6,"lo":0,"hi":0.3},{"t":293,"lo":1.9,"hi":3.8},{"t":300,"lo":1.9,"hi":3.8},{"t":304,"lo":1.9,"hi":4.8},{"t":308,"lo":3,"hi":7.6},{"t":312.5,"lo":5,"hi":9.5},{"t":313,"lo":8.6,"hi":21},{"t":324.6,"lo":8.6,"hi":21},{"t":325,"lo":11.4,"hi":22.9},{"t":329.8,"lo":11.4,"hi":22.9},{"t":330,"lo":13.3,"hi":25.7},{"t":334,"lo":14,"hi":25},{"t":338,"lo":12.5,"hi":25.5},{"t":342,"lo":13.5,"hi":25},{"t":346,"lo":12,"hi":25.7},{"t":350,"lo":14,"hi":25},{"t":354,"lo":12.5,"hi":25.5},{"t":358,"lo":13.5,"hi":25},{"t":362,"lo":12,"hi":25.7},{"t":366,"lo":14,"hi":25},{"t":370,"lo":12.5,"hi":25.5},{"t":374,"lo":13.5,"hi":25},{"t":378,"lo":12,"hi":25.7},{"t":382,"lo":14,"hi":25},{"t":386,"lo":12.5,"hi":25.5},{"t":390,"lo":13.5,"hi":25},{"t":394,"lo":12,"hi":25.7},{"t":398,"lo":14,"hi":25},{"t":402,"lo":12.5,"hi":25.5},{"t":406,"lo":13.5,"hi":25},{"t":410,"lo":12,"hi":25.7},{"t":414,"lo":14,"hi":25},{"t":418,"lo":12.5,"hi":25.5},{"t":422,"lo":13.5,"hi":25},{"t":426,"lo":12,"hi":25.7},{"t":430,"lo":14,"hi":25},{"t":434,"lo":12.5,"hi":25.5},{"t":438,"lo":13.5,"hi":25},{"t":442,"lo":12,"hi":25.7},{"t":446,"lo":14,"hi":25},{"t":450,"lo":12.5,"hi":25.5},{"t":454,"lo":13.5,"hi":25},{"t":458,"lo":12,"hi":25.7},{"t":462,"lo":14,"hi":25},{"t":466,"lo":12.5,"hi":25.5},{"t":470,"lo":13.5,"hi":25},{"t":474,"lo":12,"hi":25.7},{"t":478,"lo":14,"hi":25},{"t":482,"lo":12.5,"hi":25.5},{"t":486,"lo":13.5,"hi":25},{"t":490,"lo":12,"hi":25.7},{"t":494,"lo":14,"hi":25},{"t":498,"lo":13,"hi":25.5},{"t":500,"lo":19,"hi":26.7},{"t":511.6,"lo":19,"hi":26.7},{"t":512,"lo":13.5,"hi":25.5},{"t":516,"lo":12,"hi":26},{"t":520,"lo":14,"hi":25.5},{"t":524,"lo":12.5,"hi":26},{"t":528,"lo":13.5,"hi":25.5},{"t":532,"lo":12,"hi":26},{"t":536,"lo":14,"hi":25.5},{"t":538.8,"lo":13,"hi":26}],
"Bs":[{"t":2,"lo":29},{"t":60,"lo":26.5},{"t":72,"lo":27},{"t":85,"lo":26},{"t":99,"lo":27.6},{"t":112,"lo":26},{"t":127,"lo":27},{"t":140,"lo":26.5},{"t":155,"lo":27},{"t":220,"lo":27},{"t":236,"lo":26.5},{"t":247,"lo":33.3},{"t":258,"lo":27},{"t":272,"lo":26.5},{"t":359,"lo":30.5},{"t":372,"lo":27.5},{"t":390,"lo":27},{"t":404,"lo":30.5},{"t":420,"lo":27},{"t":445,"lo":27.5},{"t":468,"lo":27},{"t":490,"lo":27.5},{"t":505,"lo":28},{"t":522,"lo":27.5},{"t":535,"lo":27}]
},
"vconcat":[
{"width":1037,"height":88,
 "encoding":{"x":{"field":"t","type":"quantitative","scale":{"domain":[0,538.8],"nice":false,"zero":false},"axis":{"values":[0,20,40,60,80,100,120,140,160,180,200,220,240,260,280,300,320,340,360,380,400,420,440,460,480,500,520],"labels":false,"domain":true,"domainWidth":3,"tickSize":{"condition":{"test":"datum.value%60===0","value":-10},"value":-4},"tickWidth":{"condition":{"test":"datum.value%60===0","value":3},"value":2},"gridOpacity":{"condition":{"test":"datum.value%60===0","value":1},"value":0},"title":null}}},
 "layer":[
  {"data":{"name":"Lo"},"mark":{"type":"line","color":"#f0a500","strokeWidth":3,"clip":true},
   "encoding":{"y":{"field":"v","type":"quantitative","scale":{"domain":[0,5.09],"nice":false,"zero":false},"axis":{"orient":"right","grid":false,"labelOverlap":false,"values":[0,0.2,0.4,0.6,0.8,1,1.2,1.4,1.6,1.8,2,2.2,2.4,2.6,2.8,3,3.2,3.4,3.6,3.8,4,4.2,4.4,4.6,4.8,5],"tickSize":{"condition":{"test":"abs(datum.value-round(datum.value))<0.01","value":-20},"value":-7},"tickWidth":{"condition":{"test":"abs(datum.value-round(datum.value))<0.01","value":3},"value":1.5},"labelPadding":23,"labelExpr":"abs(datum.value-round(datum.value))<0.01?''+round(datum.value):''","title":"Lum(10³⁴)","titleX":21,"titleY":44,"titleAlign":"center","titleBaseline":"middle","titleAngle":90}}}},
  {"encoding":{"y":{"field":"lo","type":"quantitative","scale":{"domain":[0,1774],"nice":false,"zero":false},"axis":{"orient":"left","labelOverlap":false,"values":[0,50,100,150,200,250,300,350,400,450,500,550,600,650,700,750,800,850,900,950,1000,1050,1100,1150,1200,1250,1300,1350,1400,1450,1500,1550,1600,1650,1700,1750],"tickSize":{"condition":{"test":"datum.value%500===0","value":-22},"value":-5},"tickWidth":{"condition":{"test":"datum.value%500===0","value":3},"value":1.5},"gridOpacity":{"condition":{"test":"datum.value%500===0","value":1},"value":0},"labelPadding":25,"labelOffset":{"condition":{"test":"datum.value===0","value":-3},"value":0},"labelExpr":"datum.value%500===0?''+datum.value:''","title":"I [mA]","titleX":-49.5,"titleY":44,"titleAlign":"center","titleBaseline":"middle","titleAngle":-90}}},
   "layer":[
   {"data":{"name":"Ib"},"mark":{"type":"line","color":"#0000ff","strokeWidth":1.3,"clip":true},"encoding":{}},
   {"data":{"name":"Ir"},"mark":{"type":"line","color":"#ff0000","strokeWidth":1.6,"clip":true},"encoding":{}}
  ]}
 ],
 "resolve":{"scale":{"y":"independent"}}
},
{"width":1037,"height":89,
 "encoding":{"x":{"field":"t","type":"quantitative","scale":{"domain":[0,538.8],"nice":false,"zero":false},"axis":{"values":[0,20,40,60,80,100,120,140,160,180,200,220,240,260,280,300,320,340,360,380,400,420,440,460,480,500,520],"labels":false,"domain":true,"domainWidth":3,"tickSize":{"condition":{"test":"datum.value%60===0","value":-10},"value":-4},"tickWidth":{"condition":{"test":"datum.value%60===0","value":3},"value":2},"gridOpacity":{"condition":{"test":"datum.value%60===0","value":1},"value":0},"title":null}},
  "y":{"field":"lo","type":"quantitative","scale":{"domain":[0,110.3],"nice":false,"zero":false},"axis":{"orient":"left","labelOverlap":false,"values":[0,4,8,12,16,20,24,28,32,36,40,44,48,52,56,60,64,68,72,76,80,84,88,92,96,100,104,108],"tickSize":{"condition":{"test":"datum.value%20===0","value":-22},"value":-5},"tickWidth":{"condition":{"test":"datum.value%20===0","value":3},"value":1.5},"gridOpacity":{"condition":{"test":"datum.value%20===0","value":1},"value":0},"labelPadding":25,"labelOffset":{"condition":{"test":"datum.value===100","value":2},"value":0},"labelExpr":"datum.value%20===0?''+datum.value:''","title":"Effₕ [%]","titleX":-47.5,"titleY":44.5,"titleAlign":"center","titleBaseline":"middle","titleAngle":-90}}},
 "layer":[
  {"data":{"name":"Hk"},"mark":{"type":"area","color":"#000000","clip":true},"encoding":{"y2":{"field":"hi"}}},
  {"data":{"name":"Hg"},"mark":{"type":"area","color":"#808080","clip":true},"encoding":{"y2":{"field":"hi"}}},
  {"data":{"name":"Hp"},"mark":{"type":"area","color":"#a020f0","clip":true},"encoding":{"y2":{"field":"hi"}}},
  {"data":{"name":"Hx"},"mark":{"type":"square","color":"#a020f0","size":10,"opacity":1,"clip":true},"encoding":{}},
  {"data":{"name":"Hz"},"mark":{"type":"line","color":"#a020f0","strokeWidth":3,"strokeDash":[24,5],"clip":true},"encoding":{}}
 ]
},
{"width":1037,"height":89,
 "encoding":{"x":{"field":"t","type":"quantitative","scale":{"domain":[0,538.8],"nice":false,"zero":false},"axis":{"values":[0,20,40,60,80,100,120,140,160,180,200,220,240,260,280,300,320,340,360,380,400,420,440,460,480,500,520],"labels":false,"domain":true,"domainWidth":3,"tickSize":{"condition":{"test":"datum.value%60===0","value":-10},"value":-4},"tickWidth":{"condition":{"test":"datum.value%60===0","value":3},"value":2},"gridOpacity":{"condition":{"test":"datum.value%60===0","value":1},"value":0},"title":null}}},
 "layer":[
  {"data":{"name":"Qk"},"mark":{"type":"line","color":"#000000","strokeWidth":3,"interpolate":"step-after","clip":true},
   "encoding":{"y":{"field":"v","type":"quantitative","scale":{"domain":[0,51.3],"nice":false,"zero":false},"axis":{"orient":"right","grid":false,"labelOverlap":false,"values":[0,2,4,6,8,10,12,14,16,18,20,22,24,26,28,30,32,34,36,38,40,42,44,46,48,50],"tickSize":{"condition":{"test":"datum.value%10===0","value":-20},"value":-7},"tickWidth":{"condition":{"test":"datum.value%10===0","value":3},"value":1.5},"labelPadding":23,"labelExpr":"datum.value%10===0?''+datum.value:''","title":"Rep. (Hz)","titleX":30.5,"titleY":44.5,"titleAlign":"center","titleBaseline":"middle","titleAngle":90}}}},
  {"encoding":{"y":{"field":"lo","type":"quantitative","scale":{"domain":[0,2.51],"nice":false,"zero":false},"axis":{"orient":"left","labelOverlap":false,"values":[0,0.1,0.2,0.3,0.4,0.5,0.6,0.7,0.8,0.9,1,1.1,1.2,1.3,1.4,1.5,1.6,1.7,1.8,1.9,2,2.1,2.2,2.3,2.4,2.5],"tickSize":{"condition":{"test":"abs(datum.value*2-round(datum.value*2))<0.01","value":-22},"value":-5},"tickWidth":{"condition":{"test":"abs(datum.value*2-round(datum.value*2))<0.01","value":3},"value":1.5},"gridOpacity":{"condition":{"test":"abs(datum.value*2-round(datum.value*2))<0.01","value":1},"value":0},"labelPadding":25,"labelExpr":"(abs(datum.value*2-round(datum.value*2))<0.01 && datum.value>0.1 && datum.value<2.4)?''+datum.value:''","title":"Qₑ [nC]","titleX":-47.5,"titleY":44.5,"titleAlign":"center","titleBaseline":"middle","titleAngle":-90}}},
   "layer":[
   {"data":{"name":"Qb"},"mark":{"type":"area","color":"#0000ff","clip":true},"encoding":{"y2":{"field":"hi"}}},
   {"data":{"name":"Qc"},"mark":{"type":"area","color":"#00ffff","clip":true},"encoding":{"y2":{"field":"hi"}}},
   {"data":{"name":"Qz"},"mark":{"type":"line","color":"#00ffff","strokeWidth":3,"strokeDash":[12,7],"clip":true},"encoding":{}}
  ]}
 ],
 "resolve":{"scale":{"y":"independent"}}
},
{"width":1037,"height":89,
 "encoding":{"x":{"field":"t","type":"quantitative","scale":{"domain":[0,538.8],"nice":false,"zero":false},"axis":{"values":[0,20,40,60,80,100,120,140,160,180,200,220,240,260,280,300,320,340,360,380,400,420,440,460,480,500,520],"labels":false,"domain":true,"domainWidth":3,"tickSize":{"condition":{"test":"datum.value%60===0","value":-10},"value":-4},"tickWidth":{"condition":{"test":"datum.value%60===0","value":3},"value":2},"gridOpacity":{"condition":{"test":"datum.value%60===0","value":1},"value":0},"title":null}},
  "y":{"field":"lo","type":"quantitative","scale":{"domain":[0,252.8],"nice":false,"zero":false},"axis":{"orient":"left","labelOverlap":false,"values":[0,10,20,30,40,50,60,70,80,90,100,110,120,130,140,150,160,170,180,190,200,210,220,230,240,250],"tickSize":{"condition":{"test":"datum.value%50===0","value":-22},"value":-5},"tickWidth":{"condition":{"test":"datum.value%50===0","value":3},"value":1.5},"gridOpacity":{"condition":{"test":"datum.value%50===0","value":1},"value":0},"labelPadding":25,"labelOffset":{"condition":{"test":"datum.value===0","value":-3},"value":0},"labelExpr":"datum.value%50===0?''+datum.value:''","title":["QCS BW180","[mRad/s]"],"titleX":-58.5,"titleY":44.5,"titleAlign":"center","titleBaseline":"middle","titleAngle":-90,"titleLineHeight":17}}},
 "layer":[
  {"data":{"name":"G"},"mark":{"type":"area","color":"#006400","clip":true},"encoding":{"y2":{"field":"hi"}}},
  {"data":{"name":"Gs"},"mark":{"type":"rule","color":"#006400","strokeWidth":1.2,"clip":true},"encoding":{"y2":{"datum":0}}}
 ]
},
{"width":1037,"height":89,
 "encoding":{"x":{"field":"t","type":"quantitative","scale":{"domain":[0,538.8],"nice":false,"zero":false},"axis":{"values":[0,20,40,60,80,100,120,140,160,180,200,220,240,260,280,300,320,340,360,380,400,420,440,460,480,500,520],"labels":false,"domain":true,"domainWidth":3,"tickSize":{"condition":{"test":"datum.value%60===0","value":-10},"value":-4},"tickWidth":{"condition":{"test":"datum.value%60===0","value":3},"value":2},"gridOpacity":{"condition":{"test":"datum.value%60===0","value":1},"value":0},"title":null}},
  "y":{"field":"lo","type":"quantitative","scale":{"domain":[0,111.2],"nice":false,"zero":false},"axis":{"orient":"left","labelOverlap":false,"values":[0,4,8,12,16,20,24,28,32,36,40,44,48,52,56,60,64,68,72,76,80,84,88,92,96,100,104,108],"tickSize":{"condition":{"test":"datum.value%20===0","value":-22},"value":-5},"tickWidth":{"condition":{"test":"datum.value%20===0","value":3},"value":1.5},"gridOpacity":{"condition":{"test":"datum.value%20===0","value":1},"value":0},"labelPadding":25,"labelOffset":{"condition":[{"test":"datum.value===100","value":2},{"test":"datum.value===0","value":-3}],"value":0},"labelExpr":"datum.value%20===0?''+datum.value:''","title":"Effₗ [%]","titleX":-47.5,"titleY":44.5,"titleAlign":"center","titleBaseline":"middle","titleAngle":-90}}},
 "layer":[
  {"data":{"name":"Lk"},"mark":{"type":"area","color":"#000000","clip":true},"encoding":{"y2":{"field":"hi"}}},
  {"data":{"name":"Lg"},"mark":{"type":"area","color":"#808080","clip":true},"encoding":{"y2":{"field":"hi"}}},
  {"data":{"name":"Lm"},"mark":{"type":"area","color":"#ff00ff","clip":true},"encoding":{"y2":{"field":"hi"}}},
  {"data":{"name":"Lx"},"mark":{"type":"square","color":"#ff00ff","size":10,"opacity":1,"clip":true},"encoding":{}},
  {"data":{"name":"Lz"},"mark":{"type":"line","color":"#ff00ff","strokeWidth":3,"strokeDash":[24,5],"clip":true},"encoding":{}}
 ]
},
{"width":1037,"height":87,
 "encoding":{"x":{"field":"t","type":"quantitative","scale":{"domain":[0,538.8],"nice":false,"zero":false},"axis":{"values":[0,20,40,60,80,100,120,140,160,180,200,220,240,260,280,300,320,340,360,380,400,420,440,460,480,500,520],"labels":false,"domain":true,"domainWidth":3,"tickSize":{"condition":{"test":"datum.value%60===0","value":-10},"value":-4},"tickWidth":{"condition":{"test":"datum.value%60===0","value":3},"value":2},"gridOpacity":{"condition":{"test":"datum.value%60===0","value":1},"value":0},"title":null}}},
 "layer":[
  {"data":{"name":"Pk"},"mark":{"type":"line","color":"#000000","strokeWidth":3,"interpolate":"step-after","clip":true},
   "encoding":{"y":{"field":"v","type":"quantitative","scale":{"domain":[0,50.8],"nice":false,"zero":false},"axis":{"orient":"right","grid":false,"labelOverlap":false,"values":[0,2,4,6,8,10,12,14,16,18,20,22,24,26,28,30,32,34,36,38,40,42,44,46,48,50],"tickSize":{"condition":{"test":"datum.value%10===0","value":-20},"value":-7},"tickWidth":{"condition":{"test":"datum.value%10===0","value":3},"value":1.5},"labelPadding":23,"labelExpr":"datum.value%10===0?''+datum.value:''","title":"Rep. (Hz)","titleX":30.5,"titleY":43.5,"titleAlign":"center","titleBaseline":"middle","titleAngle":90}}}},
  {"encoding":{"y":{"field":"lo","type":"quantitative","scale":{"domain":[0,3.37],"nice":false,"zero":false},"axis":{"orient":"left","labelOverlap":false,"labelFontSize":12,"values":[0,0.1,0.2,0.3,0.4,0.5,0.6,0.7,0.8,0.9,1,1.1,1.2,1.3,1.4,1.5,1.6,1.7,1.8,1.9,2,2.1,2.2,2.3,2.4,2.5,2.6,2.7,2.8,2.9,3,3.1,3.2,3.3],"tickSize":{"condition":{"test":"abs(datum.value*2-round(datum.value*2))<0.01","value":-22},"value":-5},"tickWidth":{"condition":{"test":"abs(datum.value*2-round(datum.value*2))<0.01","value":3},"value":1.5},"gridOpacity":{"condition":{"test":"abs(datum.value*2-round(datum.value*2))<0.01","value":1},"value":0},"labelPadding":25,"labelOffset":{"condition":{"test":"datum.value===3","value":2},"value":0},"labelExpr":"abs(datum.value*2-round(datum.value*2))<0.01?''+datum.value:''","title":"Qₚ [nC]","titleX":-47.5,"titleY":43.5,"titleAlign":"center","titleBaseline":"middle","titleAngle":-90}}},
   "layer":[
   {"data":{"name":"Pr"},"mark":{"type":"area","color":"#ff0000","clip":true},"encoding":{"y2":{"field":"hi"}}},
   {"data":{"name":"Po"},"mark":{"type":"area","color":"#ffa500","clip":true},"encoding":{"y2":{"field":"hi"}}},
   {"data":{"name":"Pz"},"mark":{"type":"line","color":"#ffa500","strokeWidth":3,"clip":true},"encoding":{}}
  ]}
 ],
 "resolve":{"scale":{"y":"independent"}}
},
{"width":1037,"height":90,
 "encoding":{"x":{"field":"t","type":"quantitative","scale":{"domain":[0,538.8],"nice":false,"zero":false},"axis":{"values":[0,20,40,60,80,100,120,140,160,180,200,220,240,260,280,300,320,340,360,380,400,420,440,460,480,500,520],"labels":false,"domain":true,"domainWidth":3,"tickSize":{"condition":{"test":"datum.value%60===0","value":-10},"value":-4},"tickWidth":{"condition":{"test":"datum.value%60===0","value":3},"value":2},"gridOpacity":{"condition":{"test":"datum.value%60===0","value":1},"value":0},"title":null}},
  "y":{"field":"lo","type":"quantitative","scale":{"domain":[0,428.6],"nice":false,"zero":false},"axis":{"orient":"left","labelOverlap":false,"values":[0,20,40,60,80,100,120,140,160,180,200,220,240,260,280,300,320,340,360,380,400,420],"tickSize":{"condition":{"test":"datum.value%100===0","value":-22},"value":-5},"tickWidth":{"condition":{"test":"datum.value%100===0","value":3},"value":1.5},"gridOpacity":{"condition":{"test":"datum.value%100===0","value":1},"value":0},"labelPadding":25,"labelOffset":{"condition":{"test":"datum.value===400","value":4},"value":0},"labelExpr":"(datum.value%100===0 && datum.value>0)?''+datum.value:''","title":["QCS FW135","[mRad/s]"],"titleX":-58.5,"titleY":45,"titleAlign":"center","titleBaseline":"middle","titleAngle":-90,"titleLineHeight":17}}},
 "layer":[
  {"data":{"name":"F"},"mark":{"type":"area","color":"#0000ff","clip":true},"encoding":{"y2":{"field":"hi"}}},
  {"data":{"name":"Fs"},"mark":{"type":"rule","color":"#0000ff","strokeWidth":1.2,"clip":true},"encoding":{"y2":{"datum":290}}}
 ]
},
{"width":1037,"height":89,
 "encoding":{"x":{"field":"t","type":"quantitative","scale":{"domain":[0,538.8],"nice":false,"zero":false},"axis":{"values":[0,20,40,60,80,100,120,140,160,180,200,220,240,260,280,300,320,340,360,380,400,420,440,460,480,500,520],"labels":true,"labelOverlap":false,"domain":true,"domainWidth":3,"tickSize":{"condition":{"test":"datum.value%60===0","value":-10},"value":-4},"tickWidth":{"condition":{"test":"datum.value%60===0","value":3},"value":2},"gridOpacity":{"condition":{"test":"datum.value%60===0","value":1},"value":0},"labelFontSize":21,"labelPadding":21,"labelBaseline":"top","labelAlign":"left","labelOffset":{"condition":{"test":"datum.value===0","value":-22},"value":-18},"labelExpr":"datum.value===0?'15ʰ0ᵐ0ˢ':(datum.value%60===0?(15+datum.value/60)+'ʰ':'')","title":"5/23/2026","titleX":-63.5,"titleY":58,"titleAlign":"left","titleBaseline":"alphabetic","titleFontSize":22,"titleFontWeight":"normal","titleAngle":0}},
  "y":{"field":"lo","type":"quantitative","scale":{"domain":[0,50.9],"nice":false,"zero":false},"axis":{"orient":"left","labelOverlap":false,"values":[0,2,4,6,8,10,12,14,16,18,20,22,24,26,28,30,32,34,36,38,40,42,44,46,48,50],"tickSize":{"condition":{"test":"datum.value%10===0","value":-22},"value":-5},"tickWidth":{"condition":{"test":"datum.value%10===0","value":3},"value":1.5},"gridOpacity":{"condition":{"test":"datum.value%10===0","value":1},"value":0},"labelPadding":25,"labelExpr":"datum.value%10===0?''+datum.value:''","title":["BP","Diamond"],"titleX":-46.5,"titleY":44.5,"titleAlign":"center","titleBaseline":"middle","titleAngle":-90,"titleLineHeight":17}}},
 "layer":[
  {"data":{"name":"B"},"mark":{"type":"area","color":"#ff00ff","clip":true},"encoding":{"y2":{"field":"hi"}}},
  {"data":{"name":"Bs"},"mark":{"type":"rule","color":"#ff00ff","strokeWidth":1.2,"clip":true},"encoding":{"y2":{"datum":22}}}
 ]
}
]
}
